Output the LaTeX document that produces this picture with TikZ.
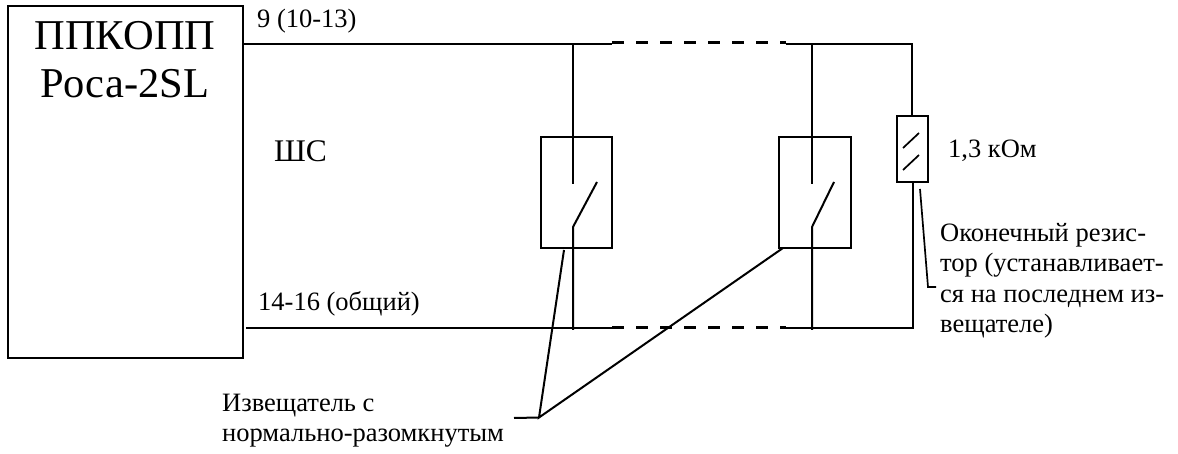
\documentclass[tikz,border=0pt]{standalone}
\usepackage{fontspec}
\setmainfont{Liberation Serif}
\tikzset{
  wire/.style={line width=2pt,black},
  dashwire/.style={line width=3pt,black,dash pattern=on 12pt off 12pt},
  thin wire/.style={line width=1.7pt,black},
  boxn/.style={draw=black,line width=2pt,rectangle,inner sep=0pt,outer sep=0pt,anchor=north west},
  lbl/.style={anchor=base west,inner sep=0pt,font=\fontsize{26.5}{26.5}\selectfont},
  big/.style={anchor=base,inner sep=0pt,font=\fontsize{42.5}{42.5}\selectfont},
  x=1pt,y=-1pt
}
\begin{document}
\begin{tikzpicture}
\useasboundingbox (0,0) rectangle (1178,454);
% boxes
\node[boxn,minimum width=235pt,minimum height=352pt] (ppk) at (8,6) {};
\node[boxn,minimum width=71pt,minimum height=111pt] (d1) at (541,137) {};
\node[boxn,minimum width=72pt,minimum height=111pt] (d2) at (779,137) {};
\node[boxn,minimum width=31pt,minimum height=66pt] (res) at (897,116) {};
% coordinates
\coordinate (t0) at (243,44);
\coordinate (t1) at (612,44);
\coordinate (t2) at (786,43);
\coordinate (t1d) at (612,43);
\coordinate (t2s) at (786,44);
\coordinate (t3) at (912,44);
\coordinate (b0) at (246,328);
\coordinate (b1) at (612,328);
\coordinate (b2) at (786,328);
\coordinate (b3) at (912.5,328);
\coordinate (a1) at (573,44);
\coordinate (a1e) at (573,184);
\coordinate (a1b) at (573,227);
\coordinate (a1t) at (597,182);
\coordinate (a1f) at (573,330);
\coordinate (a2) at (812,44);
\coordinate (a2e) at (812,184);
\coordinate (a2b) at (812,227);
\coordinate (a2t) at (834,182);
\coordinate (a2f) at (812,330);
\coordinate (restop) at (912,116);
\coordinate (resbot) at (912.5,182);
\coordinate (s1a) at (903,148);
\coordinate (s1b) at (919,133);
\coordinate (s2a) at (903,170);
\coordinate (s2b) at (919,155);
\coordinate (lj) at (539,417.5);
\coordinate (lh) at (514,418);
\coordinate (l1) at (564,250);
\coordinate (l2) at (783,248);
\coordinate (r1) at (920,189);
\coordinate (r2) at (928,287);
\coordinate (r3) at (936,287);
% wires
\draw[wire] (t0) -- (t1);
\draw[dashwire] (t1d) -- (t2);
\draw[wire] (t2s) -- (t3) -- (restop);
\draw[wire] (b0) -- (b1);
\draw[dashwire] (b1) -- (b2);
\draw[wire] (b2) -- (b3) -- (resbot);
\draw[wire] (a1) -- (a1e);
\draw[wire] (a1f) -- (a1b) -- (a1t);
\draw[wire] (a2) -- (a2e);
\draw[wire] (a2f) -- (a2b) -- (a2t);
\draw[thin wire] (s1a) -- (s1b);
\draw[thin wire] (s2a) -- (s2b);
\draw[wire] (l1) -- (lj) -- (l2);
\draw[wire] (lh) -- (lj);
\draw[thin wire] (r1) -- (r2) -- (r3);
% text
\node[big] (n1) at (125,50) {ППКОПП};
\node[big] (n2) at (125,98) {Роса-2SL};
\node[lbl] (n3) at (257,28) {9 (10-13)};
\node[lbl] (n4) at (258,311) {14-16 (общий)};
\node[lbl,font=\fontsize{31.5}{31.5}\selectfont] (n5) at (274,162) {ШС};
\node[lbl] (n6) at (948,158) {1,3 кОм};
\node[lbl] (n7) at (940,242) {Оконечный резис-};
\node[lbl] (n8) at (940,272) {тор (устанавливает-};
\node[lbl] (n9) at (940,302) {ся на последнем из-};
\node[lbl] (n10) at (940,332) {вещателе)};
\node[lbl] (n11) at (222,411) {Извещатель с};
\node[lbl] (n12) at (222,441) {нормально-разомкнутым};
\end{tikzpicture}
\end{document}
